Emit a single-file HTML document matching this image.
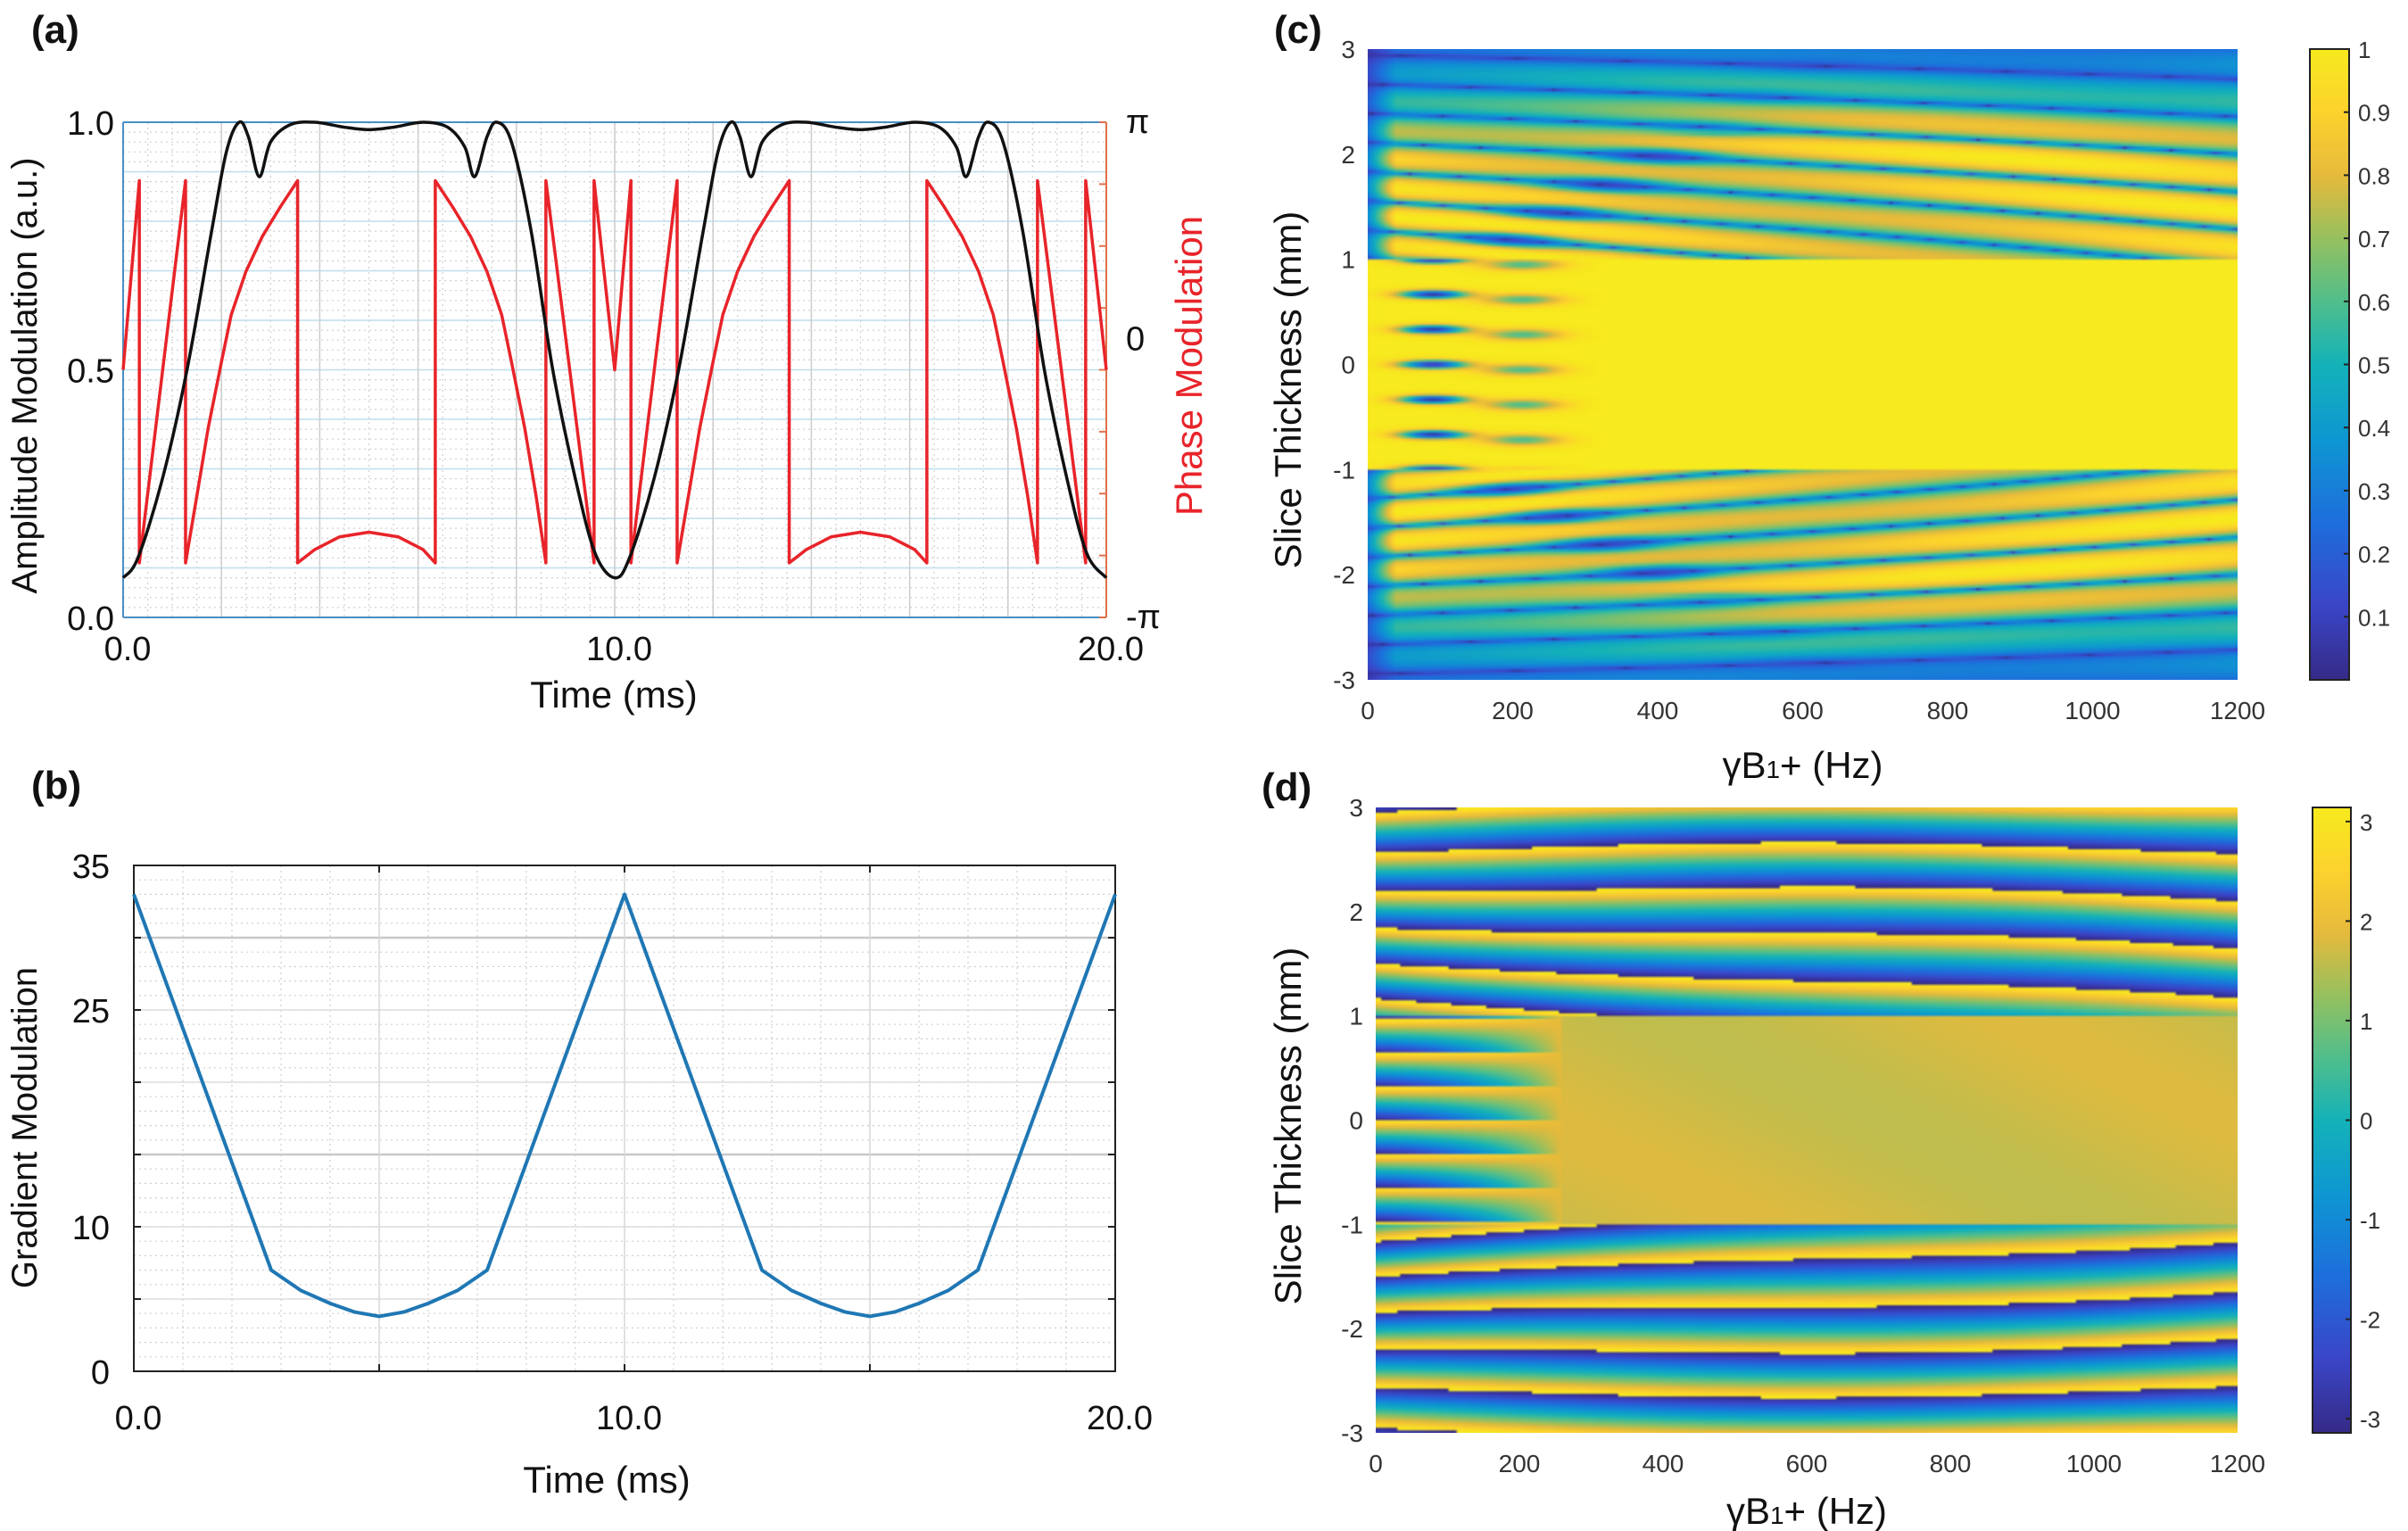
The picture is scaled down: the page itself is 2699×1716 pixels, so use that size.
<!DOCTYPE html>
<html><head><meta charset="utf-8"><style>
html,body{margin:0;padding:0;background:#fff;}
#root{position:relative;width:2699px;height:1716px;overflow:hidden;background:#fff;font-family:"Liberation Sans",sans-serif;}
svg{position:absolute;left:0;top:0;}
canvas{position:absolute;}
</style></head><body>
<div id="root">
<canvas id="hc"></canvas>
<canvas id="hd"></canvas>
<canvas id="cbc"></canvas>
<canvas id="cbd"></canvas>
<svg id="sv" width="2699" height="1716"></svg>
</div>
<script>
// ---------- data ----------
const ampT = [0,0.3,0.8,1.3,1.8,2.1,2.36,2.55,2.77,3.0,3.4,3.9,4.5,5.0,5.5,6.1,6.6,6.95,7.15,7.4,7.6,7.9,8.3,8.74,9.2,9.6,10,
              10.3,10.8,11.3,11.8,12.1,12.36,12.55,12.77,13.0,13.4,13.9,14.5,15.0,15.5,16.1,16.6,16.95,17.15,17.4,17.6,17.9,18.3,18.74,19.2,19.6,20];
const ampV = [0.08,0.12,0.28,0.5,0.78,0.94,1.0,0.97,0.89,0.96,0.995,1.0,0.99,0.985,0.99,1.0,0.99,0.95,0.89,0.97,1.0,0.96,0.78,0.5,0.28,0.13,0.08,
              0.12,0.28,0.5,0.78,0.94,1.0,0.97,0.89,0.96,0.995,1.0,0.99,0.985,0.99,1.0,0.99,0.95,0.89,0.97,1.0,0.96,0.78,0.5,0.28,0.13,0.08];
const phT = [0,0.33,0.33,1.27,1.27,1.5,1.73,2.0,2.2,2.5,2.83,3.2,3.55,3.55,3.9,4.4,5.0,5.6,6.1,6.35,6.35,6.7,7.07,7.4,7.7,7.9,8.17,8.4,8.6,8.6,9.58,9.58,10,
             10.33,10.33,11.27,11.27,11.5,11.73,12.0,12.2,12.5,12.83,13.2,13.55,13.55,13.9,14.4,15.0,15.6,16.1,16.35,16.35,16.7,17.07,17.4,17.7,17.9,18.17,18.4,18.6,18.6,19.58,19.58,20];
const phV = [0,2.4,-2.45,2.4,-2.45,-1.6,-0.74,0.1,0.7,1.25,1.69,2.07,2.4,-2.45,-2.28,-2.12,-2.06,-2.12,-2.28,-2.45,2.4,2.07,1.69,1.25,0.7,0.1,-0.74,-1.6,-2.45,2.4,-2.45,2.4,0,
             2.4,-2.45,2.4,-2.45,-1.6,-0.74,0.1,0.7,1.25,1.69,2.07,2.4,-2.45,-2.28,-2.12,-2.06,-2.12,-2.28,-2.45,2.4,2.07,1.69,1.25,0.7,0.1,-0.74,-1.6,-2.45,2.4,-2.45,2.4,0];
const gT = [0,2.8,3.4,4.0,4.5,5.0,5.5,6.0,6.6,7.2,10,12.8,13.4,14.0,14.5,15.0,15.5,16.0,16.6,17.2,20];
const gV = [33,7,5.6,4.7,4.1,3.8,4.1,4.7,5.6,7,33,7,5.6,4.7,4.1,3.8,4.1,4.7,5.6,7,33];
const aTicksX = ["0.0","10.0","20.0"];
const aTicksY = ["0.0","0.5","1.0"];
const bTicksY = [0,10,25,35];
const hxTicks = [0,200,400,600,800,1000,1200];
const hyTicks = [-3,-2,-1,0,1,2,3];
const cbcTicks = [0.1,0.2,0.3,0.4,0.5,0.6,0.7,0.8,0.9,1];
const cbdTicks = [-3,-2,-1,0,1,2,3];

const NS="http://www.w3.org/2000/svg";
const sv=document.getElementById('sv');
function el(tag,attrs,parent){const e=document.createElementNS(NS,tag);for(const k in attrs)e.setAttribute(k,attrs[k]);(parent||sv).appendChild(e);return e;}
function txt(s,attrs){const e=el('text',attrs);e.textContent=s;return e;}
function smoothPath(P){let d='M'+P[0][0]+','+P[0][1];for(let i=0;i<P.length-1;i++){const p0=P[Math.max(0,i-1)],p1=P[i],p2=P[i+1],p3=P[Math.min(P.length-1,i+2)];const c1x=p1[0]+(p2[0]-p0[0])/6,c1y=p1[1]+(p2[1]-p0[1])/6,c2x=p2[0]-(p3[0]-p1[0])/6,c2y=p2[1]-(p3[1]-p1[1])/6;d+=' C'+c1x+','+c1y+' '+c2x+','+c2y+' '+p2[0]+','+p2[1];}return d;}

// ---------- panel (a) ----------
const A={l:138,r:1240,t:137,b:692};
const ax=t=>A.l+(t/20)*(A.r-A.l);
const ay=v=>A.b-v*(A.b-A.t);
const ayp=p=>(A.t+A.b)/2-(p/Math.PI)*(A.b-A.t)/2;
let g=el('g',{});

for(let i=1;i<50;i++){const v=i/50;el('line',{x1:A.l,x2:A.r,y1:ay(v),y2:ay(v),stroke:'#d0d0d0','stroke-width':1.2,'stroke-dasharray':'2,4'},g);}
for(let i=1;i<40;i++){const t=i/2;el('line',{x1:ax(t),x2:ax(t),y1:A.t,y2:A.b,stroke:'#d0d0d0','stroke-width':1.2,'stroke-dasharray':'2,4'},g);}
for(let i=1;i<10;i++){const v=i/10;el('line',{x1:A.l,x2:A.r,y1:ay(v),y2:ay(v),stroke:'#bfe0ee','stroke-width':1.5},g);}
for(let i=1;i<10;i++){const t=i*2;el('line',{x1:ax(t),x2:ax(t),y1:A.t,y2:A.b,stroke:'#cccccc','stroke-width':1.5},g);}
el('line',{x1:A.l,x2:A.r,y1:A.t,y2:A.t,stroke:'#4a8fc4','stroke-width':2});
el('line',{x1:A.l,x2:A.r,y1:A.b,y2:A.b,stroke:'#4a8fc4','stroke-width':2});
el('line',{x1:A.l,x2:A.l,y1:A.t,y2:A.b,stroke:'#4a8fc4','stroke-width':2});
el('line',{x1:A.r,x2:A.r,y1:A.t,y2:A.b,stroke:'#e0704a','stroke-width':2});
for(let i=-4;i<=4;i++){const y=ayp(i*Math.PI/4);el('line',{x1:A.r-8,x2:A.r,y1:y,y2:y,stroke:'#e0704a','stroke-width':2});}
let pts=phT.map((t,i)=>ax(t)+','+ayp(phV[i])).join(' ');
let pl=el('polyline',{points:pts,fill:'none',stroke:'#e8242a','stroke-width':3.5,'stroke-linejoin':'round'});

pl=el('path',{d:smoothPath(ampT.map((t,i)=>[ax(t),ay(ampV[i])])),fill:'none',stroke:'#111','stroke-width':3.5,'stroke-linejoin':'round'});

aTicksY.forEach(s=>{const t=txt(s,{x:128,y:ay(parseFloat(s))+14,'font-size':38,'text-anchor':'end',fill:'#111'});});
aTicksX.forEach(s=>{const t=txt(s,{x:ax(parseFloat(s))+5,y:740,'font-size':38,'text-anchor':'middle',fill:'#111'});});
[['π',ayp(Math.PI)+12],['0',ayp(0)-22],['-π',ayp(-Math.PI)+12]].forEach(p=>{const t=txt(p[0],{x:1262,y:p[1],'font-size':38,fill:'#111'});});
let t=txt('Time (ms)',{x:688,y:793,'font-size':42,'text-anchor':'middle',fill:'#111'});

t=txt('Amplitude Modulation (a.u.)',{x:0,y:0,'font-size':40,'text-anchor':'middle',fill:'#111',transform:'translate(41,421) rotate(-90)'});

t=txt('Phase Modulation',{x:0,y:0,'font-size':42,'text-anchor':'middle',fill:'#e8242a',transform:'translate(1347,410) rotate(-90)'});

t=txt('(a)',{x:35,y:48,'font-size':44,'font-weight':'bold',fill:'#111'});


// ---------- panel (b) ----------
const B={l:150,r:1250,t:970,b:1537};
const bx=t=>B.l+(t/20)*(B.r-B.l);
const by=v=>B.b-(v/35)*(B.b-B.t);
g=el('g',{});

for(let i=1;i<35;i++){el('line',{x1:B.l,x2:B.r,y1:by(i),y2:by(i),stroke:'#cfcfcf','stroke-width':1.2,'stroke-dasharray':'2,4'},g);}
for(let i=1;i<20;i++){el('line',{x1:bx(i),x2:bx(i),y1:B.t,y2:B.b,stroke:'#cfcfcf','stroke-width':1.2,'stroke-dasharray':'2,4'},g);}
for(let i=1;i<7;i++){el('line',{x1:B.l,x2:B.r,y1:by(i*5),y2:by(i*5),stroke:(i==3||i==6)?'#c8c8c8':'#dedede','stroke-width':(i==3||i==6)?2.5:1.5},g);}
[5,10,15].forEach(v=>el('line',{x1:bx(v),x2:bx(v),y1:B.t,y2:B.b,stroke:'#d8d8d8','stroke-width':1.5},g));
el('rect',{x:B.l,y:B.t,width:B.r-B.l,height:B.b-B.t,fill:'none',stroke:'#222','stroke-width':2});
for(let i=1;i<7;i++){el('line',{x1:B.l,x2:B.l+8,y1:by(i*5),y2:by(i*5),stroke:'#222','stroke-width':2});el('line',{x1:B.r-8,x2:B.r,y1:by(i*5),y2:by(i*5),stroke:'#222','stroke-width':2});}
[5,10,15].forEach(v=>{el('line',{x1:bx(v),x2:bx(v),y1:B.b-8,y2:B.b,stroke:'#222','stroke-width':2});el('line',{x1:bx(v),x2:bx(v),y1:B.t,y2:B.t+8,stroke:'#222','stroke-width':2});});
pts=gT.map((tt,i)=>bx(tt)+','+by(gV[i])).join(' ');
pl=el('polyline',{points:pts,fill:'none',stroke:'#1f77b4','stroke-width':4,'stroke-linejoin':'round'});

bTicksY.forEach(v=>{const e=txt(String(v),{x:123,y:by(v)+14,'font-size':38,'text-anchor':'end',fill:'#111'});});
aTicksX.forEach(s=>{const e=txt(s,{x:bx(parseFloat(s))+5,y:1602,'font-size':38,'text-anchor':'middle',fill:'#111'});});
t=txt('Time (ms)',{x:680,y:1673,'font-size':42,'text-anchor':'middle',fill:'#111'});

t=txt('Gradient Modulation',{x:0,y:0,'font-size':40,'text-anchor':'middle',fill:'#111',transform:'translate(41,1264) rotate(-90)'});

t=txt('(b)',{x:35,y:895,'font-size':44,'font-weight':'bold',fill:'#111'});


// ---------- heatmaps ----------
const stops=[[0,53,42,135],[0.12,58,70,200],[0.25,30,110,220],[0.38,14,150,210],[0.5,20,178,185],[0.6,80,190,140],[0.7,150,192,95],[0.8,230,186,60],[0.9,252,210,45],[1,247,234,30]];
function cmap(v){v=Math.max(0,Math.min(1,v));for(let i=1;i<stops.length;i++){if(v<=stops[i][0]){const a=stops[i-1],b=stops[i],f=(v-a[0])/(b[0]-a[0]);return [a[1]+f*(b[1]-a[1]),a[2]+f*(b[2]-a[2]),a[3]+f*(b[3]-a[3])];}}return stops[stops.length-1].slice(1);}
function wrap(p){p=(p+Math.PI)%(2*Math.PI);if(p<0)p+=2*Math.PI;return p-Math.PI;}
function magC(x,y){
  const u=Math.abs(y);
  if(u<1){
    if(x>330) return 1;
    const fade=Math.pow(1-x/330,0.5);
    const yy=y*3-Math.round(y*3);
    const dot1=Math.exp(-Math.pow((x-90)/45,2)-Math.pow(yy/0.12,2));
    const yy2=(y*3+0.15)-Math.round(y*3+0.15);
    const dot2=Math.exp(-Math.pow((x-220)/55,2)-Math.pow(yy2/0.16,2));
    return 1-0.95*dot1-0.7*dot2*fade;
  }
  const w=u-1;
  const p=Math.PI*(w*(3.6-0.8*x/1200)+(x/1200)*2.2);
  let s=Math.pow(Math.abs(Math.sin(p)),0.35);
  let env=w<1.1?1:Math.max(0.3,1-(w-1.1)*0.75);
  let inner=1-0.7*Math.exp(-Math.pow((x-150-w*250)/80,2))*Math.pow(Math.abs(Math.cos(p)),4)*(w<1.2?1:0.3);
  let edge=Math.min(1,0.35+x/60);
  return s*env*edge*(0.9+0.1*Math.sin(x/180+w*3))*inner;
}
function phD(x,y){
  const u=Math.abs(y);
  if(u<1){
    if(x>260) return 1.7+0.12*Math.sin(x/150+y*2);
    const f=Math.pow(x/260,1.5);
    const p=wrap(Math.PI*y*6.2+Math.PI);
    return f*1.9+(1-f)*p;
  }
  const w=u-1;
  let p=2*Math.PI*(w*(2.8-0.8*x/1200)+(x/1200)*1.3)+0.9*Math.sin(x/260+w*1.5);
  return wrap(p);
}
function drawHeat(id,L,T,R,Bt,fn,lo,hi){
  const c=document.getElementById(id);
  c.style.left=L+'px';c.style.top=T+'px';c.width=R-L;c.height=Bt-T;
  const nx=320,ny=240;
  const off=document.createElement('canvas');off.width=nx;off.height=ny;
  const ctx=off.getContext('2d');const img=ctx.createImageData(nx,ny);
  for(let j=0;j<ny;j++){const y=3-6*(j+0.5)/ny;for(let i=0;i<nx;i++){const x=1200*(i+0.5)/nx;const v=(fn(x,y)-lo)/(hi-lo);const col=cmap(v);const k=4*(j*nx+i);img.data[k]=col[0];img.data[k+1]=col[1];img.data[k+2]=col[2];img.data[k+3]=255;}}
  ctx.putImageData(img,0,0);
  const cx=c.getContext('2d');cx.imageSmoothingEnabled=true;cx.drawImage(off,0,0,c.width,c.height);
}
function drawBar(id,L,T,R,Bt){
  const c=document.getElementById(id);c.style.left=L+'px';c.style.top=T+'px';c.width=R-L;c.height=Bt-T;
  const cx=c.getContext('2d');
  for(let j=0;j<c.height;j++){const col=cmap(1-j/c.height);cx.fillStyle='rgb('+col.map(Math.round).join(',')+')';cx.fillRect(0,j,c.width,1);}
  el('rect',{x:L,y:T,width:R-L,height:Bt-T,fill:'none',stroke:'#222','stroke-width':2});
}
const C={l:1533,r:2508,t:55,b:762};
const D={l:1542,r:2508,t:905,b:1606};
drawHeat('hc',C.l,C.t,C.r,C.b,magC,0,1);
drawHeat('hd',D.l,D.t,D.r,D.b,phD,-Math.PI,Math.PI);
drawBar('cbc',2589,55,2633,762);
drawBar('cbd',2592,905,2635,1606);
function heatAxes(P,ttlY,lblY,name){
  hxTicks.forEach(v=>{const x=P.l+(v/1200)*(P.r-P.l);const e=txt(String(v),{x:x,y:P.b+44,'font-size':28,'text-anchor':'middle',fill:'#333'});});
  hyTicks.forEach(v=>{const y=P.t+(3-v)/6*(P.b-P.t);const e=txt(String(v),{x:P.l-14,y:y+10,'font-size':28,'text-anchor':'end',fill:'#333'});});
  let e=txt('Slice Thickness (mm)',{x:0,y:0,'font-size':42,'text-anchor':'middle',fill:'#111',transform:'translate(1458,'+lblY+') rotate(-90)'});
  
  e=el('text',{x:(P.l+P.r)/2,y:ttlY,'font-size':42,'text-anchor':'middle',fill:'#111'});
  e.innerHTML='γB<tspan font-size="28">1</tspan>+ (Hz)';
  
}
heatAxes(C,872,437,'c');
heatAxes(D,1708,1262,'d');
cbcTicks.forEach(v=>{const y=762-v*(762-55);el('line',{x1:2633,x2:2627,y1:y,y2:y,stroke:'#222','stroke-width':2});const e=txt(String(v),{x:2643,y:y+10,'font-size':26,fill:'#333'});});
cbdTicks.forEach(v=>{const y=1255.5-v/Math.PI*(1606-905)/2;el('line',{x1:2635,x2:2629,y1:y,y2:y,stroke:'#222','stroke-width':2});const e=txt(String(v),{x:2645,y:y+10,'font-size':26,fill:'#333'});});
t=txt('(c)',{x:1428,y:48,'font-size':44,'font-weight':'bold',fill:'#111'});

t=txt('(d)',{x:1414,y:897,'font-size':44,'font-weight':'bold',fill:'#111'});

</script>
</body></html>
